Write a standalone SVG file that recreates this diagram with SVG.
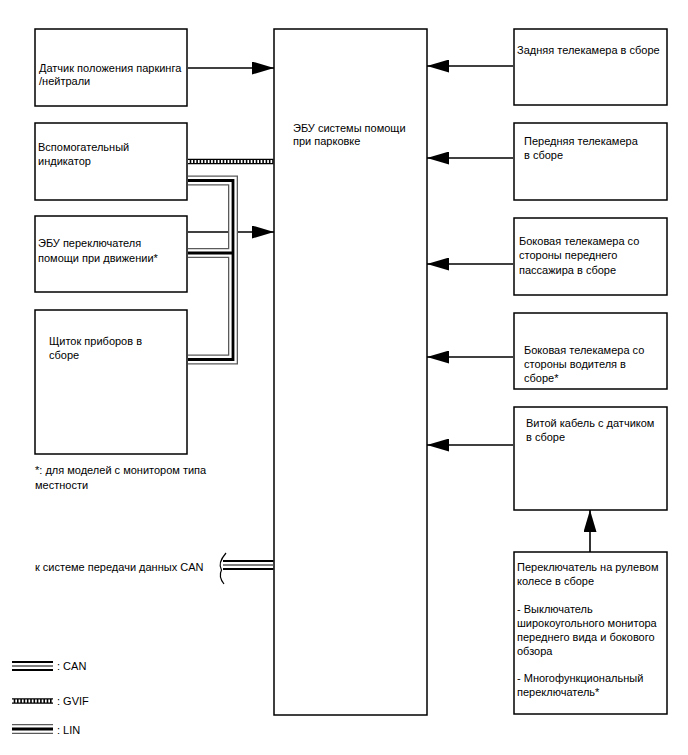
<svg xmlns="http://www.w3.org/2000/svg" width="688" height="755" viewBox="0 0 688 755">
<style>
  .box{fill:#fff;stroke:#000;stroke-width:1.5}
  .t{font-family:"Liberation Sans",Arial,sans-serif;font-size:11px;fill:#000}
  .ln{fill:none;stroke:#000;stroke-width:1.6}
  .g1{fill:none;stroke:#5a5a5a;stroke-width:10;stroke-linejoin:miter}
  .g2{fill:none;stroke:#fff;stroke-width:7.4;stroke-linejoin:miter}
  .g3{fill:none;stroke:#000;stroke-width:2.8;stroke-linejoin:miter}
  .gv1{stroke:#000;stroke-width:5.5}
  .gv2{stroke:#fff;stroke-width:3;stroke-dasharray:1.7 1.6}
  .canb{stroke:#000;stroke-width:2}
  .cang{stroke:#555;stroke-width:1.5}
</style>
<defs>
  <marker id="ah" viewBox="0 0 22 13" refX="22" refY="6.5" markerWidth="22" markerHeight="13" orient="auto" markerUnits="userSpaceOnUse">
    <path d="M0,0 L22,6.5 L0,13 z" fill="#000"/>
  </marker>
</defs>
<rect width="688" height="755" fill="#fff"/>

<g id="ecu">
  <rect class="box" x="274" y="29" width="153" height="686"/>
  <text class="t" x="293" y="132">ЭБУ системы помощи</text>
  <text class="t" x="293" y="145">при парковке</text>
</g>
<g id="park-sensor">
  <rect class="box" x="35" y="29" width="152" height="77"/>
  <text class="t" x="39" y="72">Датчик положения паркинга</text>
  <text class="t" x="39" y="85">/нейтрали</text>
</g>
<g id="aux-indicator">
  <rect class="box" x="35" y="123" width="152" height="77"/>
  <text class="t" x="38" y="151">Вспомогательный</text>
  <text class="t" x="38" y="165">индикатор</text>
</g>
<g id="drive-switch-ecu">
  <rect class="box" x="35" y="216" width="152" height="76"/>
  <text class="t" x="38" y="247">ЭБУ переключателя</text>
  <text class="t" x="38" y="262">помощи при движении*</text>
</g>
<g id="combination-meter">
  <rect class="box" x="35" y="310" width="152" height="144"/>
  <text class="t" x="49" y="345">Щиток приборов в</text>
  <text class="t" x="49" y="359">сборе</text>
</g>
<g id="rear-camera">
  <rect class="box" x="514" y="29" width="153" height="76"/>
  <text class="t" x="517" y="54">Задняя телекамера в сборе</text>
</g>
<g id="front-camera">
  <rect class="box" x="514" y="123" width="153" height="77"/>
  <text class="t" x="524" y="145">Передняя телекамера</text>
  <text class="t" x="524" y="159">в сборе</text>
</g>
<g id="side-camera-passenger">
  <rect class="box" x="514" y="218" width="153" height="77"/>
  <text class="t" x="519" y="245">Боковая телекамера со</text>
  <text class="t" x="519" y="259">стороны переднего</text>
  <text class="t" x="519" y="274">пассажира в сборе</text>
</g>
<g id="side-camera-driver">
  <rect class="box" x="514" y="313" width="153" height="76"/>
  <text class="t" x="524" y="354">Боковая телекамера со</text>
  <text class="t" x="524" y="368">стороны водителя в</text>
  <text class="t" x="524" y="382">сборе*</text>
</g>
<g id="spiral-cable">
  <rect class="box" x="514" y="407" width="153" height="103"/>
  <text class="t" x="526" y="427">Витой кабель с датчиком</text>
  <text class="t" x="526" y="441">в сборе</text>
</g>
<g id="steering-switch">
  <rect class="box" x="514" y="552" width="153" height="162"/>
  <text class="t" x="517" y="571">Переключатель на рулевом</text>
  <text class="t" x="517" y="585">колесе в сборе</text>
  <text class="t" x="517" y="613">- Выключатель</text>
  <text class="t" x="517" y="627">широкоугольного монитора</text>
  <text class="t" x="517" y="641">переднего вида и бокового</text>
  <text class="t" x="517" y="655">обзора</text>
  <text class="t" x="517" y="682">- Многофункциональный</text>
  <text class="t" x="517" y="696">переключатель*</text>
</g>

<g id="connectors">
  <line class="ln" x1="188" y1="68" x2="274" y2="68" marker-end="url(#ah)"/>
  <line class="ln" x1="188" y1="232" x2="274" y2="232" marker-end="url(#ah)"/>
  <line class="ln" x1="513" y1="66" x2="427" y2="66" marker-end="url(#ah)"/>
  <line class="ln" x1="513" y1="158" x2="427" y2="158" marker-end="url(#ah)"/>
  <line class="ln" x1="513" y1="264" x2="427" y2="264" marker-end="url(#ah)"/>
  <line class="ln" x1="513" y1="357" x2="427" y2="357" marker-end="url(#ah)"/>
  <line class="ln" x1="513" y1="445" x2="427" y2="445" marker-end="url(#ah)"/>
  <line class="ln" x1="590" y1="552" x2="590" y2="510" marker-end="url(#ah)"/>
  <!-- GVIF -->
  <line class="gv1" x1="188" y1="161.5" x2="273.5" y2="161.5"/>
  <line class="gv2" x1="188" y1="161.5" x2="273.5" y2="161.5"/>
  <!-- LIN bus -->
  <path class="g1" d="M188 180.5 H233 V359.5 H188 M188 253 H233"/>
  <path class="g2" d="M188 180.5 H233 V359.5 H188 M188 253 H233"/>
  <path class="g3" d="M188 180.5 H233 V359.5 H188 M188 253 H233"/>
  <!-- CAN -->
  <line class="canb" x1="223" y1="561" x2="273.5" y2="561"/>
  <line class="cang" x1="223" y1="565" x2="273.5" y2="565"/>
  <line class="canb" x1="223" y1="569" x2="273.5" y2="569"/>
  <path d="M226 553 C220 560 219 566 221.5 570 C219 575 220 579 224 584" fill="none" stroke="#000" stroke-width="1.2"/>
</g>

<g id="notes">
  <text class="t" x="35" y="474">*: для моделей с монитором типа</text>
  <text class="t" x="35" y="489">местности</text>
  <text class="t" x="35" y="571">к системе передачи данных CAN</text>
</g>

<g id="legend">
  <line class="canb" x1="12" y1="662" x2="53" y2="662"/>
  <line class="cang" x1="12" y1="666" x2="53" y2="666"/>
  <line class="canb" x1="12" y1="670" x2="53" y2="670"/>
  <text class="t" x="57" y="670">: CAN</text>
  <line class="gv1" x1="12" y1="701" x2="53" y2="701"/>
  <line class="gv2" x1="12" y1="701" x2="53" y2="701"/>
  <text class="t" x="57" y="705">: GVIF</text>
  <line class="g1" x1="12" y1="729" x2="53" y2="729"/>
  <line class="g2" x1="12" y1="729" x2="53" y2="729"/>
  <line class="g3" x1="12" y1="729" x2="53" y2="729"/>
  <text class="t" x="57" y="734">: LIN</text>
</g>
</svg>
